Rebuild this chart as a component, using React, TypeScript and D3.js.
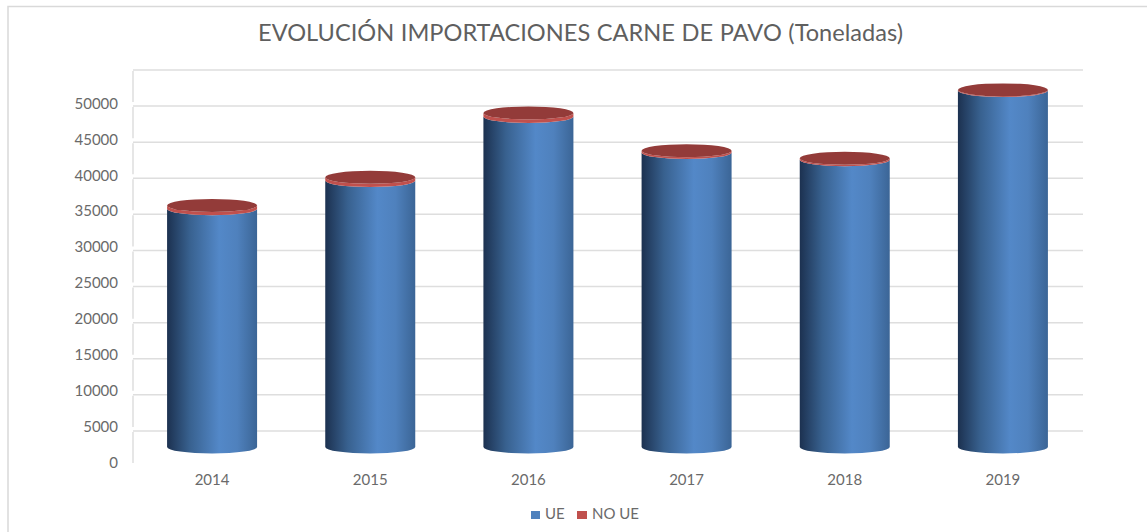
import React from "react";
import * as d3 from "d3";

const years = ["2014", "2015", "2016", "2017", "2018", "2019"];
const ue = [33100, 37000, 45900, 40900, 39900, 49500];
const noUe = [450, 450, 500, 250, 200, 100];
const ticks = [0, 5000, 10000, 15000, 20000, 25000, 30000, 35000, 40000, 45000, 50000];
const wallTicks = [...ticks, 55000];
const legendItems = ["UE", "NO UE"];

const width = 1147;
const height = 532;
const font = "Lato, 'Open Sans', sans-serif";

// the picture is a 3D column chart: the wall sits behind the columns and lower labels
const wallY = d3.scaleLinear().domain([0, 55000]).range([467, 70]);
const frontY = d3.scaleLinear().domain([0, 55000]).range([447, 51]);
const labelY = d3.scaleLinear().domain([0, 50000]).range([462.5, 103.5]);
const x = d3.scaleBand().domain(years).range([133, 1082]).paddingInner(0.43).paddingOuter(0.215);

const rx = 45;
const ry = 6.5;

// outline of a cylinder section between two y positions
const sidePath = (cx: number, top: number, bottom: number) =>
  `M${cx - rx},${top} L${cx - rx},${bottom} A${rx},${ry} 0 0 0 ${cx + rx},${bottom} L${cx + rx},${top} A${rx},${ry} 0 0 1 ${cx - rx},${top} Z`;

export default function App() {
  return (
    <svg
      width={width}
      height={height}
      style={{ position: "absolute", left: 0, top: 0, background: "#fff" }}
      fontFamily={font}
    >
      <defs>
        <linearGradient id="blueSide" x1="0" x2="1" y1="0" y2="0">
          <stop offset="0" stopColor="#1c3150" />
          <stop offset="0.25" stopColor="#38618f" />
          <stop offset="0.58" stopColor="#5388c8" />
          <stop offset="0.78" stopColor="#4f81bd" />
          <stop offset="1" stopColor="#3b6596" />
        </linearGradient>
      </defs>

      {/* frame only shows on the left and top, the crop cuts the rest */}
      <path d="M8,532 L8,6.5 L1147,6.5" fill="none" stroke="#d9d9d9" strokeWidth={1.5} />

      <text
        x={580.5}
        y={41}
        textAnchor="middle"
        fontSize={22.5}
        fill="#5f5f5f"
        wordSpacing={0.5}
        textLength={645}
        lengthAdjust="spacingAndGlyphs"
      >
        EVOLUCIÓN IMPORTACIONES CARNE DE PAVO (Toneladas)
      </text>

      {/* back wall */}
      {wallTicks.slice(1).map((t) => (
        <line key={t} x1={133} x2={1083} y1={wallY(t)} y2={wallY(t)} stroke="#dedede" strokeWidth={1.5} />
      ))}
      {wallTicks.slice(0, -1).map((t) => (
        <line
          key={t}
          x1={133}
          x2={133}
          y1={wallY(t) - 4}
          y2={wallY(t + 5000) + 1}
          stroke="#dedede"
          strokeWidth={1.5}
        />
      ))}

      {ticks.map((t) => (
        <text key={t} x={118} y={labelY(t)} dy="0.35em" textAnchor="end" fontSize={15} fill="#6a6a6a">
          {t}
        </text>
      ))}

      {years.map((year, i) => {
        const cx = (x(year) as number) + x.bandwidth() / 2;
        const base = frontY(0);
        const blueTop = frontY(ue[i]);
        const redTop = frontY(ue[i] + noUe[i]);
        return (
          <g key={year}>
            <path d={sidePath(cx, blueTop, base)} fill="url(#blueSide)" />
            <path d={sidePath(cx, redTop, blueTop)} fill="#c0504d" />
            <ellipse cx={cx} cy={redTop} rx={rx} ry={ry} fill="#933b39" />
            <text x={cx} y={480} dy="0.35em" textAnchor="middle" fontSize={15} fill="#6a6a6a">
              {year}
            </text>
          </g>
        );
      })}

      {/* legend */}
      <rect x={531} y={511} width={9} height={8} fill="#4f81bd" />
      <text x={545} y={514} dy="0.35em" fontSize={15} fill="#6a6a6a">
        {legendItems[0]}
      </text>
      <rect x={577} y={511} width={10} height={8} fill="#c0504d" />
      <text x={592} y={514} dy="0.35em" fontSize={15} fill="#6a6a6a">
        {legendItems[1]}
      </text>
    </svg>
  );
}
